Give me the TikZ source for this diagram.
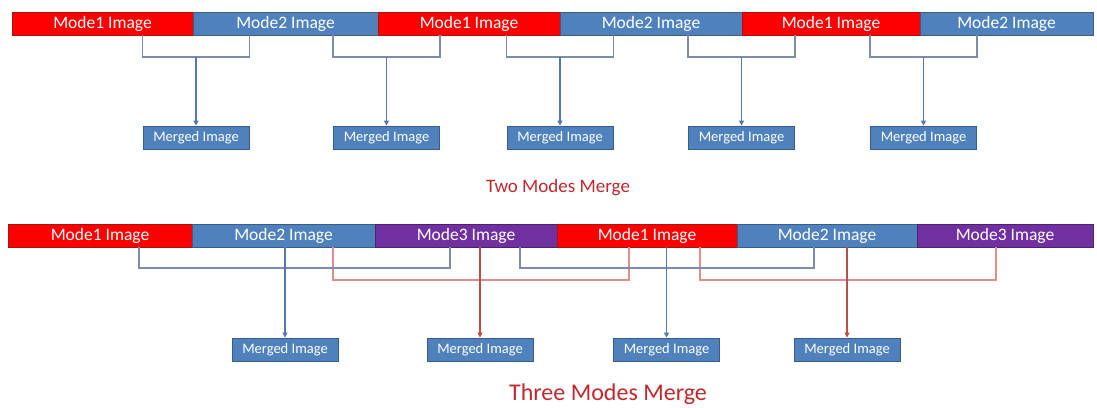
\documentclass[tikz,border=0pt]{standalone}
\usepackage{fontspec}
\setmainfont{Carlito}
\usetikzlibrary{arrows.meta}
\definecolor{mred}{HTML}{FF0000}
\definecolor{mredb}{HTML}{B01010}
\definecolor{mblue}{HTML}{4F81BD}
\definecolor{mblueb}{HTML}{385D8A}
\definecolor{mpurple}{HTML}{7030A0}
\definecolor{mpurpleb}{HTML}{4E2070}
\definecolor{titlered}{HTML}{C0282D}
\definecolor{brkblue}{HTML}{7D8DA8}
\definecolor{arrblue}{HTML}{5577AA}
\definecolor{brkred}{HTML}{E08C8A}
\definecolor{arrred}{HTML}{B8504A}
\tikzset{
  seg/.style={minimum height=23pt, inner sep=0pt, line width=0.8pt, text=white,
    font=\fontsize{17.5}{17.5}\selectfont},
  s1/.style={seg, fill=mred, draw=mredb},
  s2/.style={seg, fill=mblue, draw=mblueb},
  s3/.style={seg, fill=mpurple, draw=mpurpleb},
  merged/.style={fill=mblue, draw=mblueb, line width=0.8pt, minimum width=106pt,
    minimum height=23pt, inner sep=0pt, text=white, font=\fontsize{14.5}{14.5}\selectfont},
  bbrk/.style={draw=brkblue, line width=1.5pt},
  barr/.style={draw=arrblue, line width=1.5pt, -{Triangle[length=5pt,width=5pt]}},
  rbrk/.style={draw=brkred, line width=1.5pt},
  rarr/.style={draw=arrred, line width=1.5pt, -{Triangle[length=5pt,width=5pt]}},
  ttl/.style={text=titlered, anchor=base, inner sep=0pt}
}
\begin{document}
\begin{tikzpicture}[x=1pt, y=-1pt]
\useasboundingbox (0,0) rectangle (1097,407);
% ---------- top bar ----------
\node[s1, minimum width=181pt] (t1) at (102.5,23.5) {Mode1 Image};
\node[s2, minimum width=185pt] (t2) at (285.5,23.5) {Mode2 Image};
\node[s1, minimum width=182pt] (t3) at (469,23.5) {Mode1 Image};
\node[s2, minimum width=182pt] (t4) at (651,23.5) {Mode2 Image};
\node[s1, minimum width=178pt] (t5) at (831,23.5) {Mode1 Image};
\node[s2, minimum width=173pt] (t6) at (1006.5,23.5) {Mode2 Image};
% merged boxes
\node[merged] (ma) at (196,137.5) {Merged Image};
\node[merged] (mb) at (386.5,137.5) {Merged Image};
\node[merged] (mc) at (560,137.5) {Merged Image};
\node[merged] (md) at (741.5,137.5) {Merged Image};
\node[merged] (me) at (923.5,137.5) {Merged Image};
% junctions
\coordinate (ja) at (196,57);
\coordinate (jb) at (386.5,57);
\coordinate (jc) at (560,57);
\coordinate (jd) at (741.5,57);
\coordinate (je) at (923.5,57);
\draw[bbrk] (ma.west |- t1.south) |- (ja) -| (ma.east |- t2.south);
\draw[bbrk] (mb.west |- t2.south) |- (jb) -| (mb.east |- t3.south);
\draw[bbrk] (mc.west |- t3.south) |- (jc) -| (mc.east |- t4.south);
\draw[bbrk] (md.west |- t4.south) |- (jd) -| (md.east |- t5.south);
\draw[bbrk] (me.west |- t5.south) |- (je) -| (me.east |- t6.south);
\draw[barr] (ja) -- (ma.north);
\draw[barr] (jb) -- (mb.north);
\draw[barr] (jc) -- (mc.north);
\draw[barr] (jd) -- (md.north);
\draw[barr] (je) -- (me.north);
\node[ttl, font=\fontsize{19}{19}\selectfont] (title2) at (558,192) {Two Modes Merge};
% ---------- bottom bar ----------
\node[s1, minimum width=184pt] (b1) at (100,235.5) {Mode1 Image};
\node[s2, minimum width=183pt] (b2) at (283.5,235.5) {Mode2 Image};
\node[s3, minimum width=182pt] (b3) at (466,235.5) {Mode3 Image};
\node[s1, minimum width=180pt] (b4) at (647,235.5) {Mode1 Image};
\node[s2, minimum width=180pt] (b5) at (827,235.5) {Mode2 Image};
\node[s3, minimum width=176pt] (b6) at (1005,235.5) {Mode3 Image};
\node[merged] (n1) at (285,349.5) {Merged Image};
\node[merged] (n2) at (480,349.5) {Merged Image};
\node[merged] (n3) at (666.5,349.5) {Merged Image};
\node[merged] (n4) at (847,349.5) {Merged Image};
% bracket corners
\coordinate (p1l) at (139,268);
\coordinate (p1r) at (450,268);
\coordinate (q1l) at (333,280);
\coordinate (q1r) at (629,280);
\coordinate (p2l) at (520,268);
\coordinate (p2r) at (814,268);
\coordinate (q2l) at (700,280);
\coordinate (q2r) at (996,280);
\draw[rbrk] (q1l |- b2.south) -- (q1l) -- (q1r) -- (q1r |- b4.south);
\draw[rbrk] (q2l |- b4.south) -- (q2l) -- (q2r) -- (q2r |- b6.south);
\draw[bbrk] (p1l |- b1.south) -- (p1l) -- (p1r) -- (p1r |- b3.south);
\draw[bbrk] (p2l |- b3.south) -- (p2l) -- (p2r) -- (p2r |- b5.south);
\draw[barr] (n1.north |- b2.south) -- (n1.north);
\draw[rarr] (n2.north |- b3.south) -- (n2.north);
\draw[barr] (n3.north |- b4.south) -- (n3.north);
\draw[rarr] (n4.north |- b5.south) -- (n4.north);
\node[ttl, font=\fontsize{24}{24}\selectfont] (title3) at (608,400.5) {Three Modes Merge};
\end{tikzpicture}
\end{document}
